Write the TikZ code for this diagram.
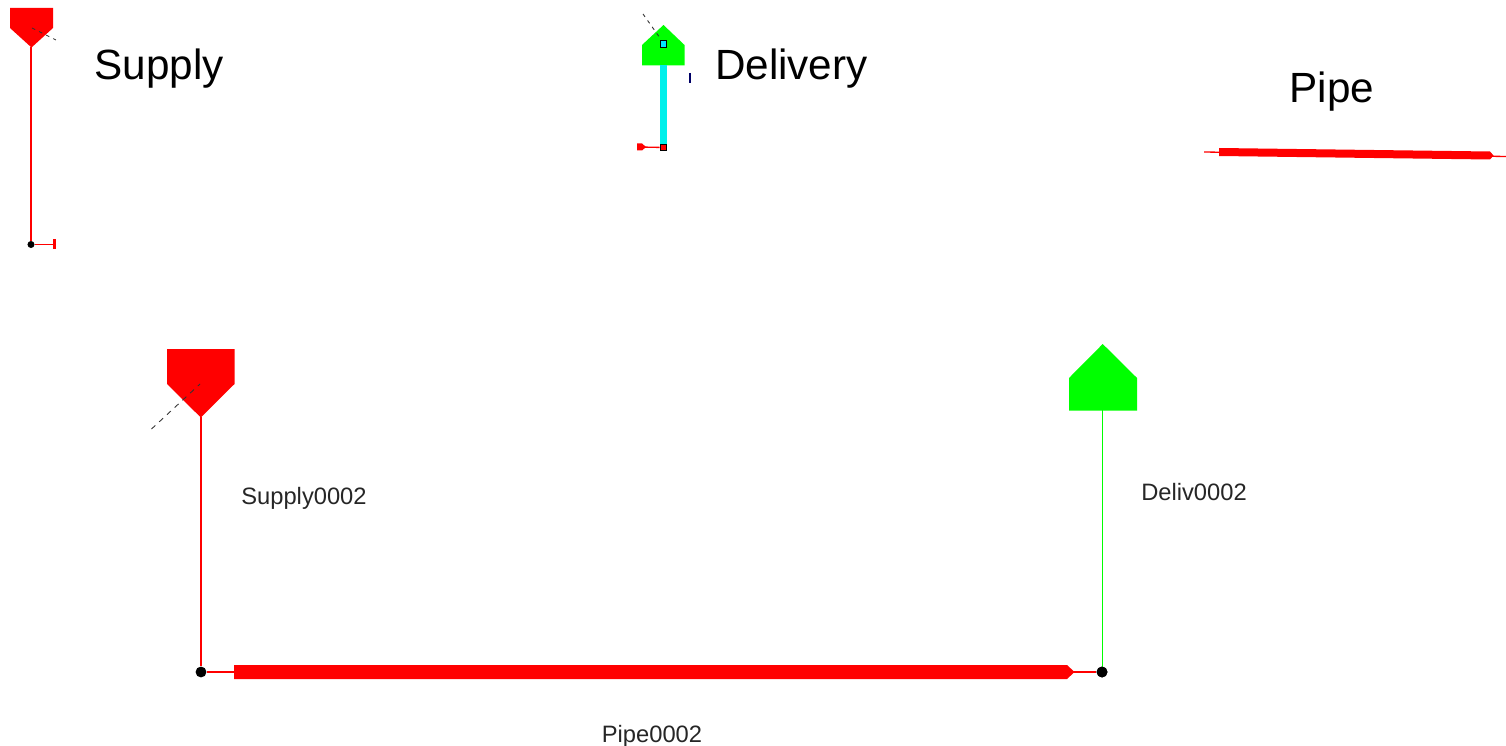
\documentclass[tikz,border=0pt]{standalone}
\usepackage{fontspec}
\setmainfont{Liberation Sans}
\usetikzlibrary{arrows.meta, positioning, calc}

\definecolor{pipered}{RGB}{255,0,0}
\definecolor{delivgreen}{RGB}{0,255,0}
\definecolor{linkcyan}{RGB}{0,240,235}
\definecolor{boxcyan}{RGB}{0,230,255}

\begin{document}
\begin{tikzpicture}[
    x=0.02cm, y=-0.02cm,
    bigtext/.style={font=\fontsize{24.05}{28}\selectfont, text=black, inner sep=0pt},
    smalltext/.style={font=\fontsize{13.5}{16}\selectfont, text=black!85, inner sep=0pt},
    thin red/.style={draw=pipered, line width=0.75pt},
    thin green/.style={draw=delivgreen, line width=0.75pt},
    direction/.style={draw=black!80, line width=0.5pt, dash pattern=on 3pt off 3pt},
    short direction/.style={direction, dash pattern=on 2pt off 2.5pt},
    junction/.style={circle, fill=black, inner sep=0pt, minimum size=#1},
    marker/.style={rectangle, draw=black, line width=0.6pt, fill=#1, inner sep=0pt,
        minimum size=3.8pt}
  ]
  \useasboundingbox (0,0) rectangle (1506,746);

  % small supply
  \fill[pipered] (10,8) -- (53,8) -- (53,28) -- (31.5,47.5) -- (10,28) -- cycle;
  \coordinate (s1top) at (31,47);
  \node[junction=4pt] (s1bot) at (31,244.5) {};
  \coordinate (s1end) at (54.5,244.5);
  \coordinate (s1a) at (32,28);
  \coordinate (s1b) at (56,40);
  \draw[thin red] (s1top) -- (s1bot);
  \draw[thin red] (s1bot) -- (s1end);
  \draw[pipered, line width=1.3pt] ($(s1end)+(0,-5)$) -- ($(s1end)+(0,4.5)$);
  \draw[short direction] (s1a) -- (s1b);
  \node[bigtext] (supplytitle) at (159.3,68.5) {Supply};

  % small delivery
  \fill[delivgreen] (663.5,25) -- (684.5,45) -- (684.5,65.5) -- (642,65.5) -- (642,45) -- cycle;
  \coordinate (d1top) at (663.5,65);
  \coordinate (d1low) at (663.5,147.5);
  \coordinate (d1a) at (643,14);
  \coordinate (d1b) at (660,38);
  \coordinate (d1arrow) at (640,147);
  \draw[linkcyan, line width=3.5pt] (d1top) -- (d1low);
  \node[marker=pipered] (d1bot) at (d1low) {};
  \node[marker=boxcyan] (d1mid) at (663.5,44) {};
  \draw[thin red] (d1arrow) -- (d1bot);
  \fill[pipered] (637,143.5) -- (642,143.5) -- (646,147) -- (642,150.5) -- (637,150.5) -- cycle;
  \draw[short direction] (d1a) -- (d1b);
  \draw[blue!40!black, line width=0.8pt] (690,73) -- (690,83.5);
  \node[bigtext] (delivtitle) at (791.3,68.5) {Delivery};

  % small pipe
  \coordinate (p1l) at (1204,152);
  \coordinate (p1r) at (1506,156.5);
  \draw[thin red] (p1l) -- (p1r);
  \fill[pipered] (1219,148) -- (1490,151.5) -- (1493.5,155.5) -- (1490,159.5) -- (1219,156) -- cycle;
  \node[bigtext] (pipetitle) at (1331.8,91.5) {Pipe};

  % big model
  \fill[pipered] (167,349) -- (234.5,349) -- (234.5,384) -- (200.8,417.5) -- (167,384) -- cycle;
  \fill[delivgreen] (1102.7,344) -- (1137,378) -- (1137,410.5) -- (1069,410.5) -- (1069,378) -- cycle;
  \coordinate (supplytip) at (201,417);
  \coordinate (delivbase) at (1102.5,410);
  \node[junction=6.2pt] (j1) at (201,672) {};
  \node[junction=6.2pt] (j2) at (1102,672) {};
  \coordinate (dira) at (151.5,429);
  \coordinate (dirb) at (200,384);
  \draw[thin red] (supplytip) -- (j1);
  \draw[thin green] (delivbase) -- (delivbase |- j2);
  \draw[thin red] (j1) -- (j2);
  \fill[pipered] (234,665) -- (1067,665) -- (1074.5,672) -- (1067,679) -- (234,679) -- cycle;
  \node[junction=6.2pt] at (j2) {};
  \draw[direction] (dira) -- (dirb);

  \node[smalltext] (supplylabel) at (304,498.5) {Supply0002};
  \node[smalltext] (delivlabel) at (1194,492.5) {Deliv0002};
  \node[smalltext] (pipelabel) at (652,736) {Pipe0002};
\end{tikzpicture}
\end{document}
